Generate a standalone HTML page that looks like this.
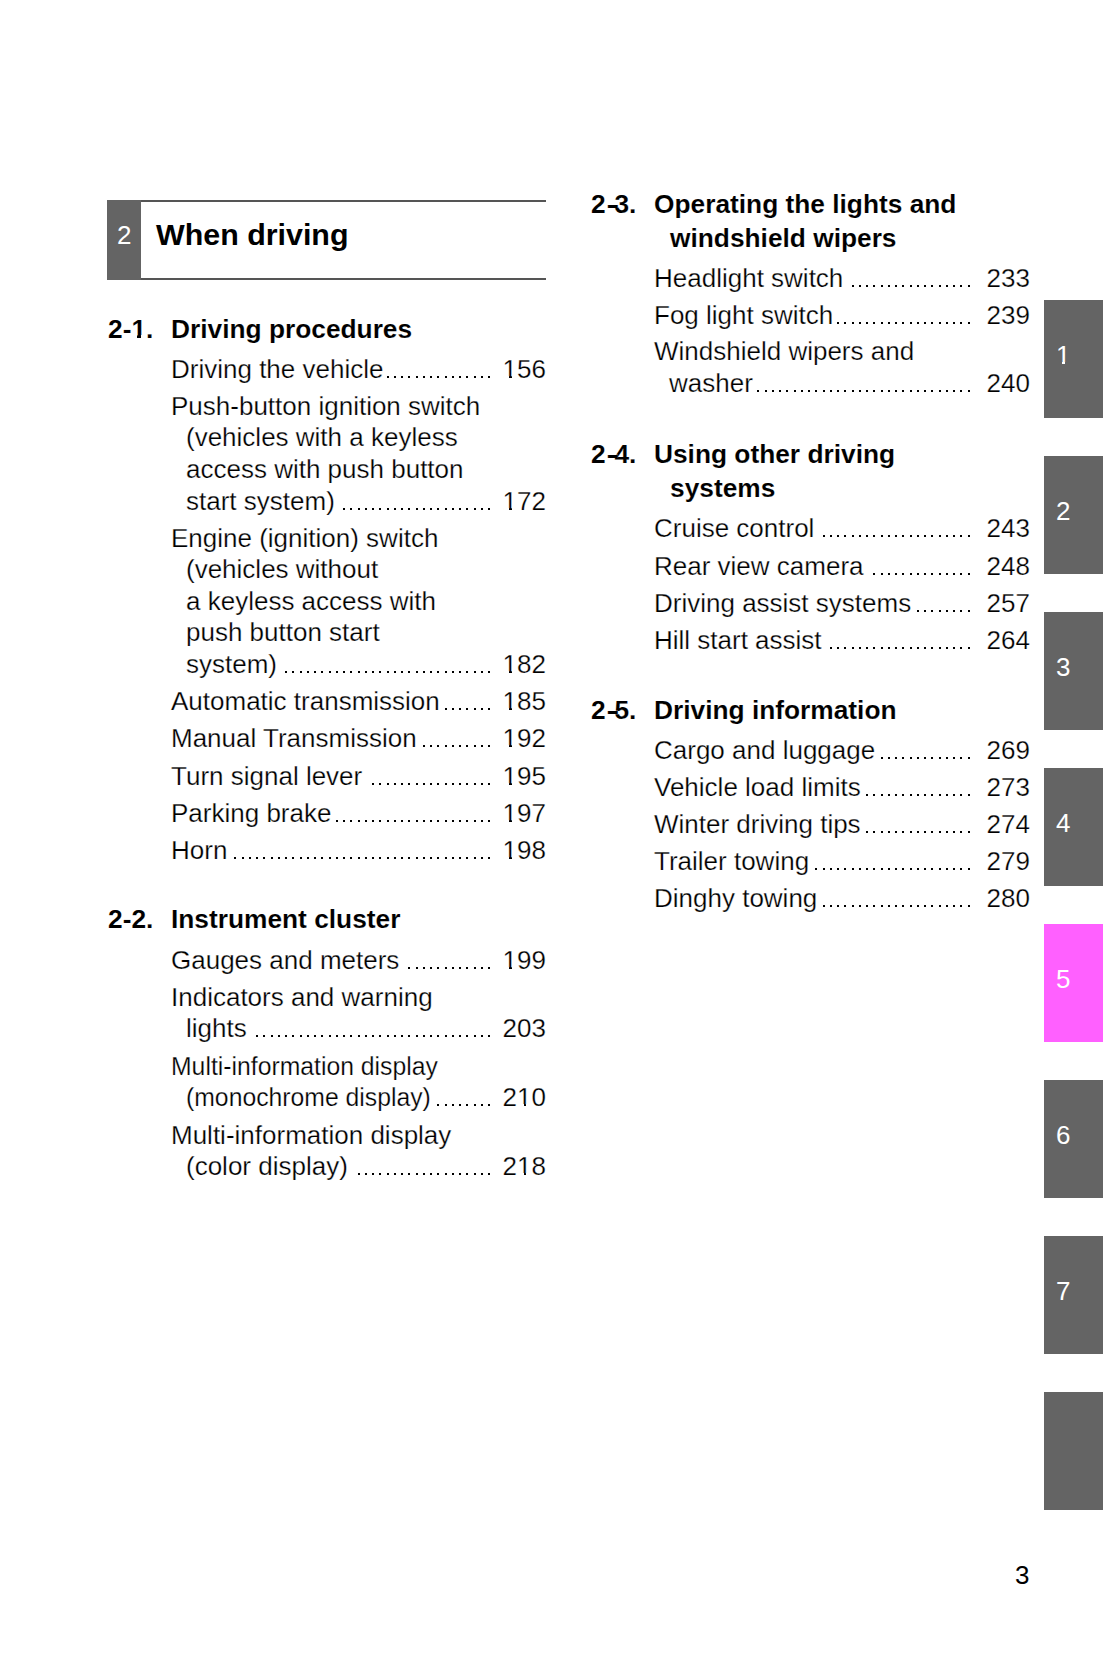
<!DOCTYPE html>
<html><head><meta charset="utf-8">
<style>
html,body{margin:0;padding:0;background:#fff;}
body{width:1103px;height:1654px;position:relative;overflow:hidden;font-family:"Liberation Sans",sans-serif;color:#000;}
.a{position:absolute;white-space:nowrap;}
.t{position:absolute;white-space:nowrap;-webkit-text-stroke:0.25px #fff;font-size:26px;line-height:30px;height:30px;}
.b{font-weight:bold;font-size:26.3px;-webkit-text-stroke:0.1px #fff;}
.k{}
.hy{display:inline-block;transform:translateX(1px) scaleX(1.5);transform-origin:1.4px 0;}
.o{position:relative;font-style:normal;}
.o::before,.o::after{content:"";position:absolute;background:#fff;bottom:0.192em;height:0.115em;}
.o::before{left:0.05em;width:0.2em;}
.o::after{left:0.342em;width:0.21em;}
.ob::before,.ob::after{height:0.142em;}
.ob::before{left:0.03em;width:0.202em;}
.ob::after{left:0.372em;width:0.19em;}
.og::before,.og::after{background:#646464;}
.dots{position:absolute;shape-rendering:crispEdges;}
.c{display:inline-block;transform:scaleX(0.952);transform-origin:0 0;}
.dt{letter-spacing:0.05px;}
.tab{position:absolute;left:1044px;width:59px;height:118px;}
.tab span{position:absolute;left:12px;top:39.7px;font-size:26px;line-height:30px;color:#fff;}
</style></head><body>
<div class="a" style="left:107px;top:200px;width:34px;height:80px;background:#646464;"></div>
<div class="a" style="left:141px;top:200px;width:405px;height:2px;background:#555;"></div>
<div class="a" style="left:141px;top:278px;width:405px;height:2px;background:#555;"></div>
<div class="a" style="left:117px;top:219.7px;font-size:26px;line-height:30px;color:#fff;">2</div>
<div class="a" style="left:156px;top:217px;font-size:30.4px;line-height:34px;font-weight:bold;">When driving</div>
<div class="t b" style="left:108px;top:313.5px;"><span class="k">2-<span class="o ob">1</span>.</span></div>
<div class="t b" style="left:171px;top:313.5px;">Driving procedures</div>
<div class="t" style="left:171px;top:354px;">Driving the vehicle</div>
<svg class="dots" style="left:387px;top:376px;" width="103" height="2"><path d="M0 0h2v2h-2zM7 0h2v2h-2zM14 0h2v2h-2zM21 0h2v2h-2zM29 0h2v2h-2zM36 0h2v2h-2zM43 0h2v2h-2zM50 0h2v2h-2zM58 0h2v2h-2zM65 0h2v2h-2zM72 0h2v2h-2zM79 0h2v2h-2zM87 0h2v2h-2zM94 0h2v2h-2zM101 0h2v2h-2z"/></svg>
<div class="t" style="right:557px;top:354px;"><span class="o">1</span>56</div>
<div class="t" style="left:171px;top:390.5px;">Push-button ignition switch</div>
<div class="t" style="left:186px;top:422px;">(vehicles with a keyless</div>
<div class="t" style="left:186px;top:453.5px;">access with push button</div>
<div class="t" style="left:186px;top:485.5px;">start system)</div>
<svg class="dots" style="left:343px;top:508px;" width="147" height="2"><path d="M0 0h2v2h-2zM7 0h2v2h-2zM15 0h2v2h-2zM22 0h2v2h-2zM29 0h2v2h-2zM36 0h2v2h-2zM44 0h2v2h-2zM51 0h2v2h-2zM58 0h2v2h-2zM65 0h2v2h-2zM73 0h2v2h-2zM80 0h2v2h-2zM87 0h2v2h-2zM94 0h2v2h-2zM102 0h2v2h-2zM109 0h2v2h-2zM116 0h2v2h-2zM123 0h2v2h-2zM131 0h2v2h-2zM138 0h2v2h-2zM145 0h2v2h-2z"/></svg>
<div class="t" style="right:557px;top:485.5px;"><span class="o">1</span>72</div>
<div class="t" style="left:171px;top:522.5px;">Engine (ignition) switch</div>
<div class="t" style="left:186px;top:553.5px;">(vehicles without</div>
<div class="t" style="left:186px;top:585.5px;">a keyless access with</div>
<div class="t" style="left:186px;top:617px;">push button start</div>
<div class="t" style="left:186px;top:648.5px;">system)</div>
<svg class="dots" style="left:285px;top:671px;" width="205" height="2"><path d="M0 0h2v2h-2zM7 0h2v2h-2zM15 0h2v2h-2zM22 0h2v2h-2zM29 0h2v2h-2zM36 0h2v2h-2zM44 0h2v2h-2zM51 0h2v2h-2zM58 0h2v2h-2zM65 0h2v2h-2zM73 0h2v2h-2zM80 0h2v2h-2zM87 0h2v2h-2zM94 0h2v2h-2zM102 0h2v2h-2zM109 0h2v2h-2zM116 0h2v2h-2zM123 0h2v2h-2zM131 0h2v2h-2zM138 0h2v2h-2zM145 0h2v2h-2zM152 0h2v2h-2zM160 0h2v2h-2zM167 0h2v2h-2zM174 0h2v2h-2zM181 0h2v2h-2zM189 0h2v2h-2zM196 0h2v2h-2zM203 0h2v2h-2z"/></svg>
<div class="t" style="right:557px;top:648.5px;"><span class="o">1</span>82</div>
<div class="t" style="left:171px;top:685.5px;">Automatic transmission</div>
<svg class="dots" style="left:445px;top:708px;" width="45" height="2"><path d="M0 0h2v2h-2zM7 0h2v2h-2zM14 0h2v2h-2zM21 0h2v2h-2zM29 0h2v2h-2zM36 0h2v2h-2zM43 0h2v2h-2z"/></svg>
<div class="t" style="right:557px;top:685.5px;"><span class="o">1</span>85</div>
<div class="t" style="left:171px;top:722.5px;">Manual Transmission</div>
<svg class="dots" style="left:423px;top:745px;" width="67" height="2"><path d="M0 0h2v2h-2zM7 0h2v2h-2zM14 0h2v2h-2zM22 0h2v2h-2zM29 0h2v2h-2zM36 0h2v2h-2zM43 0h2v2h-2zM51 0h2v2h-2zM58 0h2v2h-2zM65 0h2v2h-2z"/></svg>
<div class="t" style="right:557px;top:722.5px;"><span class="o">1</span>92</div>
<div class="t" style="left:171px;top:760.5px;">Turn signal lever</div>
<svg class="dots" style="left:372px;top:783px;" width="118" height="2"><path d="M0 0h2v2h-2zM7 0h2v2h-2zM15 0h2v2h-2zM22 0h2v2h-2zM29 0h2v2h-2zM36 0h2v2h-2zM44 0h2v2h-2zM51 0h2v2h-2zM58 0h2v2h-2zM65 0h2v2h-2zM73 0h2v2h-2zM80 0h2v2h-2zM87 0h2v2h-2zM94 0h2v2h-2zM102 0h2v2h-2zM109 0h2v2h-2zM116 0h2v2h-2z"/></svg>
<div class="t" style="right:557px;top:760.5px;"><span class="o">1</span>95</div>
<div class="t" style="left:171px;top:797.5px;">Parking brake</div>
<svg class="dots" style="left:336px;top:820px;" width="154" height="2"><path d="M0 0h2v2h-2zM7 0h2v2h-2zM14 0h2v2h-2zM22 0h2v2h-2zM29 0h2v2h-2zM36 0h2v2h-2zM43 0h2v2h-2zM51 0h2v2h-2zM58 0h2v2h-2zM65 0h2v2h-2zM72 0h2v2h-2zM80 0h2v2h-2zM87 0h2v2h-2zM94 0h2v2h-2zM101 0h2v2h-2zM109 0h2v2h-2zM116 0h2v2h-2zM123 0h2v2h-2zM130 0h2v2h-2zM138 0h2v2h-2zM145 0h2v2h-2zM152 0h2v2h-2z"/></svg>
<div class="t" style="right:557px;top:797.5px;"><span class="o">1</span>97</div>
<div class="t" style="left:171px;top:835px;">Horn</div>
<svg class="dots" style="left:234px;top:857px;" width="256" height="2"><path d="M0 0h2v2h-2zM8 0h2v2h-2zM15 0h2v2h-2zM22 0h2v2h-2zM29 0h2v2h-2zM37 0h2v2h-2zM44 0h2v2h-2zM51 0h2v2h-2zM58 0h2v2h-2zM66 0h2v2h-2zM73 0h2v2h-2zM80 0h2v2h-2zM87 0h2v2h-2zM95 0h2v2h-2zM102 0h2v2h-2zM109 0h2v2h-2zM116 0h2v2h-2zM124 0h2v2h-2zM131 0h2v2h-2zM138 0h2v2h-2zM145 0h2v2h-2zM153 0h2v2h-2zM160 0h2v2h-2zM167 0h2v2h-2zM174 0h2v2h-2zM182 0h2v2h-2zM189 0h2v2h-2zM196 0h2v2h-2zM203 0h2v2h-2zM211 0h2v2h-2zM218 0h2v2h-2zM225 0h2v2h-2zM232 0h2v2h-2zM240 0h2v2h-2zM247 0h2v2h-2zM254 0h2v2h-2z"/></svg>
<div class="t" style="right:557px;top:835px;"><span class="o">1</span>98</div>
<div class="t b" style="left:108px;top:904px;"><span class="k">2-2.</span></div>
<div class="t b" style="left:171px;top:904px;">Instrument cluster</div>
<div class="t" style="left:171px;top:944.5px;">Gauges and meters</div>
<svg class="dots" style="left:408px;top:967px;" width="82" height="2"><path d="M0 0h2v2h-2zM8 0h2v2h-2zM15 0h2v2h-2zM22 0h2v2h-2zM29 0h2v2h-2zM37 0h2v2h-2zM44 0h2v2h-2zM51 0h2v2h-2zM58 0h2v2h-2zM66 0h2v2h-2zM73 0h2v2h-2zM80 0h2v2h-2z"/></svg>
<div class="t" style="right:557px;top:944.5px;"><span class="o">1</span>99</div>
<div class="t" style="left:171px;top:981.5px;">Indicators and warning</div>
<div class="t" style="left:186px;top:1013px;">lights</div>
<svg class="dots" style="left:256px;top:1035px;" width="234" height="2"><path d="M0 0h2v2h-2zM7 0h2v2h-2zM15 0h2v2h-2zM22 0h2v2h-2zM29 0h2v2h-2zM36 0h2v2h-2zM44 0h2v2h-2zM51 0h2v2h-2zM58 0h2v2h-2zM65 0h2v2h-2zM73 0h2v2h-2zM80 0h2v2h-2zM87 0h2v2h-2zM94 0h2v2h-2zM102 0h2v2h-2zM109 0h2v2h-2zM116 0h2v2h-2zM123 0h2v2h-2zM131 0h2v2h-2zM138 0h2v2h-2zM145 0h2v2h-2zM152 0h2v2h-2zM160 0h2v2h-2zM167 0h2v2h-2zM174 0h2v2h-2zM181 0h2v2h-2zM189 0h2v2h-2zM196 0h2v2h-2zM203 0h2v2h-2zM210 0h2v2h-2zM218 0h2v2h-2zM225 0h2v2h-2zM232 0h2v2h-2z"/></svg>
<div class="t" style="right:557px;top:1013px;">203</div>
<div class="t" style="left:171px;top:1050.5px;"><span class="c">Multi-information display</span></div>
<div class="t" style="left:186px;top:1082px;"><span class="c">(monochrome display)</span></div>
<svg class="dots" style="left:437px;top:1104px;" width="53" height="2"><path d="M0 0h2v2h-2zM8 0h2v2h-2zM15 0h2v2h-2zM22 0h2v2h-2zM29 0h2v2h-2zM37 0h2v2h-2zM44 0h2v2h-2zM51 0h2v2h-2z"/></svg>
<div class="t" style="right:557px;top:1082px;">2<span class="o">1</span>0</div>
<div class="t" style="left:171px;top:1119.5px;">Multi-information display</div>
<div class="t" style="left:186px;top:1150.5px;">(color display)</div>
<svg class="dots" style="left:358px;top:1173px;" width="132" height="2"><path d="M0 0h2v2h-2zM7 0h2v2h-2zM14 0h2v2h-2zM21 0h2v2h-2zM29 0h2v2h-2zM36 0h2v2h-2zM43 0h2v2h-2zM50 0h2v2h-2zM58 0h2v2h-2zM65 0h2v2h-2zM72 0h2v2h-2zM79 0h2v2h-2zM87 0h2v2h-2zM94 0h2v2h-2zM101 0h2v2h-2zM108 0h2v2h-2zM116 0h2v2h-2zM123 0h2v2h-2zM130 0h2v2h-2z"/></svg>
<div class="t" style="right:557px;top:1150.5px;">2<span class="o">1</span>8</div>
<div class="t b" style="left:591px;top:189px;"><span class="k">2<span class="hy">-</span>3.</span></div>
<div class="t b" style="left:654px;top:189px;">Operating the lights and</div>
<div class="t b" style="left:670px;top:222.5px;">windshield wipers</div>
<div class="t" style="left:654px;top:262.5px;">Headlight switch</div>
<svg class="dots" style="left:852px;top:285px;" width="118" height="2"><path d="M0 0h2v2h-2zM7 0h2v2h-2zM14 0h2v2h-2zM21 0h2v2h-2zM29 0h2v2h-2zM36 0h2v2h-2zM43 0h2v2h-2zM50 0h2v2h-2zM58 0h2v2h-2zM65 0h2v2h-2zM72 0h2v2h-2zM79 0h2v2h-2zM87 0h2v2h-2zM94 0h2v2h-2zM101 0h2v2h-2zM108 0h2v2h-2zM116 0h2v2h-2z"/></svg>
<div class="t" style="right:73px;top:262.5px;">233</div>
<div class="t" style="left:654px;top:299.5px;">Fog light switch</div>
<svg class="dots" style="left:837px;top:322px;" width="133" height="2"><path d="M0 0h2v2h-2zM7 0h2v2h-2zM15 0h2v2h-2zM22 0h2v2h-2zM29 0h2v2h-2zM36 0h2v2h-2zM44 0h2v2h-2zM51 0h2v2h-2zM58 0h2v2h-2zM65 0h2v2h-2zM73 0h2v2h-2zM80 0h2v2h-2zM87 0h2v2h-2zM94 0h2v2h-2zM102 0h2v2h-2zM109 0h2v2h-2zM116 0h2v2h-2zM123 0h2v2h-2zM131 0h2v2h-2z"/></svg>
<div class="t" style="right:73px;top:299.5px;">239</div>
<div class="t" style="left:654px;top:336px;">Windshield wipers and</div>
<div class="t" style="left:669px;top:368px;">washer</div>
<svg class="dots" style="left:757px;top:390px;" width="213" height="2"><path d="M0 0h2v2h-2zM8 0h2v2h-2zM15 0h2v2h-2zM22 0h2v2h-2zM29 0h2v2h-2zM37 0h2v2h-2zM44 0h2v2h-2zM51 0h2v2h-2zM58 0h2v2h-2zM66 0h2v2h-2zM73 0h2v2h-2zM80 0h2v2h-2zM87 0h2v2h-2zM95 0h2v2h-2zM102 0h2v2h-2zM109 0h2v2h-2zM116 0h2v2h-2zM124 0h2v2h-2zM131 0h2v2h-2zM138 0h2v2h-2zM145 0h2v2h-2zM153 0h2v2h-2zM160 0h2v2h-2zM167 0h2v2h-2zM174 0h2v2h-2zM182 0h2v2h-2zM189 0h2v2h-2zM196 0h2v2h-2zM203 0h2v2h-2zM211 0h2v2h-2z"/></svg>
<div class="t" style="right:73px;top:368px;">240</div>
<div class="t b" style="left:591px;top:439px;"><span class="k">2<span class="hy">-</span>4.</span></div>
<div class="t b" style="left:654px;top:439px;">Using other driving</div>
<div class="t b" style="left:670px;top:472.5px;">systems</div>
<div class="t" style="left:654px;top:512.5px;">Cruise control</div>
<svg class="dots" style="left:823px;top:535px;" width="147" height="2"><path d="M0 0h2v2h-2zM7 0h2v2h-2zM14 0h2v2h-2zM21 0h2v2h-2zM29 0h2v2h-2zM36 0h2v2h-2zM43 0h2v2h-2zM50 0h2v2h-2zM58 0h2v2h-2zM65 0h2v2h-2zM72 0h2v2h-2zM79 0h2v2h-2zM87 0h2v2h-2zM94 0h2v2h-2zM101 0h2v2h-2zM108 0h2v2h-2zM116 0h2v2h-2zM123 0h2v2h-2zM130 0h2v2h-2zM137 0h2v2h-2zM145 0h2v2h-2z"/></svg>
<div class="t" style="right:73px;top:512.5px;">243</div>
<div class="t" style="left:654px;top:550.5px;">Rear view camera</div>
<svg class="dots" style="left:873px;top:573px;" width="97" height="2"><path d="M0 0h2v2h-2zM8 0h2v2h-2zM15 0h2v2h-2zM22 0h2v2h-2zM29 0h2v2h-2zM37 0h2v2h-2zM44 0h2v2h-2zM51 0h2v2h-2zM58 0h2v2h-2zM66 0h2v2h-2zM73 0h2v2h-2zM80 0h2v2h-2zM87 0h2v2h-2zM95 0h2v2h-2z"/></svg>
<div class="t" style="right:73px;top:550.5px;">248</div>
<div class="t" style="left:654px;top:587.5px;">Driving assist systems</div>
<svg class="dots" style="left:917px;top:610px;" width="53" height="2"><path d="M0 0h2v2h-2zM7 0h2v2h-2zM14 0h2v2h-2zM22 0h2v2h-2zM29 0h2v2h-2zM36 0h2v2h-2zM43 0h2v2h-2zM51 0h2v2h-2z"/></svg>
<div class="t" style="right:73px;top:587.5px;">257</div>
<div class="t" style="left:654px;top:625px;">Hill start assist</div>
<svg class="dots" style="left:830px;top:647px;" width="140" height="2"><path d="M0 0h2v2h-2zM7 0h2v2h-2zM14 0h2v2h-2zM22 0h2v2h-2zM29 0h2v2h-2zM36 0h2v2h-2zM43 0h2v2h-2zM51 0h2v2h-2zM58 0h2v2h-2zM65 0h2v2h-2zM72 0h2v2h-2zM80 0h2v2h-2zM87 0h2v2h-2zM94 0h2v2h-2zM101 0h2v2h-2zM109 0h2v2h-2zM116 0h2v2h-2zM123 0h2v2h-2zM130 0h2v2h-2zM138 0h2v2h-2z"/></svg>
<div class="t" style="right:73px;top:625px;">264</div>
<div class="t b" style="left:591px;top:694.5px;"><span class="k">2<span class="hy">-</span>5.</span></div>
<div class="t b" style="left:654px;top:694.5px;">Driving information</div>
<div class="t" style="left:654px;top:734.5px;">Cargo and luggage</div>
<svg class="dots" style="left:881px;top:757px;" width="89" height="2"><path d="M0 0h2v2h-2zM7 0h2v2h-2zM14 0h2v2h-2zM21 0h2v2h-2zM29 0h2v2h-2zM36 0h2v2h-2zM43 0h2v2h-2zM50 0h2v2h-2zM58 0h2v2h-2zM65 0h2v2h-2zM72 0h2v2h-2zM79 0h2v2h-2zM87 0h2v2h-2z"/></svg>
<div class="t" style="right:73px;top:734.5px;">269</div>
<div class="t" style="left:654px;top:772px;">Vehicle load limits</div>
<svg class="dots" style="left:866px;top:794px;" width="104" height="2"><path d="M0 0h2v2h-2zM7 0h2v2h-2zM15 0h2v2h-2zM22 0h2v2h-2zM29 0h2v2h-2zM36 0h2v2h-2zM44 0h2v2h-2zM51 0h2v2h-2zM58 0h2v2h-2zM65 0h2v2h-2zM73 0h2v2h-2zM80 0h2v2h-2zM87 0h2v2h-2zM94 0h2v2h-2zM102 0h2v2h-2z"/></svg>
<div class="t" style="right:73px;top:772px;">273</div>
<div class="t" style="left:654px;top:809px;">Winter driving tips</div>
<svg class="dots" style="left:866px;top:831px;" width="104" height="2"><path d="M0 0h2v2h-2zM7 0h2v2h-2zM15 0h2v2h-2zM22 0h2v2h-2zM29 0h2v2h-2zM36 0h2v2h-2zM44 0h2v2h-2zM51 0h2v2h-2zM58 0h2v2h-2zM65 0h2v2h-2zM73 0h2v2h-2zM80 0h2v2h-2zM87 0h2v2h-2zM94 0h2v2h-2zM102 0h2v2h-2z"/></svg>
<div class="t" style="right:73px;top:809px;">274</div>
<div class="t" style="left:654px;top:846px;">Trailer towing</div>
<svg class="dots" style="left:815px;top:868px;" width="155" height="2"><path d="M0 0h2v2h-2zM8 0h2v2h-2zM15 0h2v2h-2zM22 0h2v2h-2zM29 0h2v2h-2zM37 0h2v2h-2zM44 0h2v2h-2zM51 0h2v2h-2zM58 0h2v2h-2zM66 0h2v2h-2zM73 0h2v2h-2zM80 0h2v2h-2zM87 0h2v2h-2zM95 0h2v2h-2zM102 0h2v2h-2zM109 0h2v2h-2zM116 0h2v2h-2zM124 0h2v2h-2zM131 0h2v2h-2zM138 0h2v2h-2zM145 0h2v2h-2zM153 0h2v2h-2z"/></svg>
<div class="t" style="right:73px;top:846px;">279</div>
<div class="t" style="left:654px;top:883px;">Dinghy towing</div>
<svg class="dots" style="left:823px;top:905px;" width="147" height="2"><path d="M0 0h2v2h-2zM7 0h2v2h-2zM14 0h2v2h-2zM21 0h2v2h-2zM29 0h2v2h-2zM36 0h2v2h-2zM43 0h2v2h-2zM50 0h2v2h-2zM58 0h2v2h-2zM65 0h2v2h-2zM72 0h2v2h-2zM79 0h2v2h-2zM87 0h2v2h-2zM94 0h2v2h-2zM101 0h2v2h-2zM108 0h2v2h-2zM116 0h2v2h-2zM123 0h2v2h-2zM130 0h2v2h-2zM137 0h2v2h-2zM145 0h2v2h-2z"/></svg>
<div class="t" style="right:73px;top:883px;">280</div>
<div class="tab" style="top:300px;background:#646464;"><span><i class="o og">1</i></span></div>
<div class="tab" style="top:456px;background:#646464;"><span>2</span></div>
<div class="tab" style="top:612px;background:#646464;"><span>3</span></div>
<div class="tab" style="top:768px;background:#646464;"><span>4</span></div>
<div class="tab" style="top:924px;background:#ff60ff;"><span>5</span></div>
<div class="tab" style="top:1080px;background:#646464;"><span>6</span></div>
<div class="tab" style="top:1236px;background:#646464;"><span>7</span></div>
<div class="tab" style="top:1392px;background:#646464;"></div>
<div class="a" style="left:1015px;top:1559.5px;font-size:26px;line-height:30px;">3</div>
</body></html>
